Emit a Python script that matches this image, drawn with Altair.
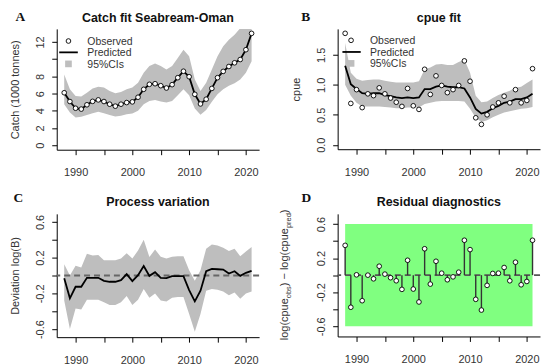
import altair as alt
import pandas as pd

# ---------------- data ----------------
years = [1988, 1989, 1990, 1991, 1992, 1993, 1994, 1995, 1996, 1997, 1998, 1999,
         2000, 2001, 2002, 2003, 2004, 2005, 2006, 2007, 2008, 2009, 2010, 2011,
         2012, 2013, 2014, 2015, 2016, 2017, 2018, 2019, 2020, 2021]

catch_obs = [6.10, 5.08, 4.30, 4.20, 4.70, 5.10, 5.27, 5.08, 4.77, 4.54, 4.77, 4.96,
             5.04, 5.58, 6.50, 7.08, 7.15, 6.92, 6.65, 7.04, 7.85, 8.60, 7.96, 5.92,
             4.80, 5.35, 6.60, 7.85, 8.58, 9.15, 9.58, 9.96, 11.10, 13.00]
catch_pred = [6.10, 5.08, 4.30, 4.20, 4.70, 5.10, 5.27, 5.08, 4.77, 4.54, 4.77, 4.96,
              5.04, 5.58, 6.50, 7.08, 7.15, 6.92, 6.65, 7.04, 7.85, 8.60, 7.96, 5.92,
              4.80, 5.35, 6.60, 7.85, 8.58, 9.15, 9.58, 9.96, 11.10, 13.00]
catch_lo = [4.77, 3.80, 3.23, 3.30, 3.50, 3.73, 3.88, 3.73, 3.50, 3.35, 3.42, 3.60,
            3.70, 4.00, 4.77, 5.15, 5.27, 5.08, 4.96, 5.15, 5.80, 6.50, 5.80, 4.27,
            3.54, 4.10, 5.04, 5.92, 6.50, 6.90, 7.20, 7.65, 8.42, 9.77]
catch_hi = [8.23, 6.50, 5.73, 5.65, 6.10, 6.58, 6.80, 6.70, 6.30, 6.04, 6.20, 6.50,
            6.70, 7.27, 8.42, 9.20, 9.50, 9.20, 8.80, 9.20, 10.15, 11.10, 10.35, 7.65,
            6.30, 7.27, 8.80, 10.35, 11.50, 12.27, 12.85, 13.60, 14.20, 14.80]

cpue_obs = [1.86, 0.69, 0.92, 0.62, 0.85, 0.82, 0.95, 0.85, 0.78, 0.71, 0.64, 0.94,
            0.65, 0.59, 1.26, 0.84, 1.15, 0.99, 0.87, 0.92, 0.99, 1.40, 1.06, 0.45,
            0.34, 0.50, 0.63, 0.70, 0.81, 0.70, 0.92, 0.70, 0.74, 1.27]
cpue_pred = [1.32, 1.01, 0.93, 0.86, 0.85, 0.86, 0.86, 0.83, 0.81, 0.79, 0.78, 0.79,
             0.78, 0.79, 0.93, 0.93, 0.97, 0.99, 0.97, 0.96, 0.96, 0.94, 0.79, 0.60,
             0.52, 0.55, 0.61, 0.65, 0.70, 0.72, 0.76, 0.76, 0.79, 0.85]
cpue_lo = [1.00, 0.82, 0.70, 0.64, 0.64, 0.64, 0.64, 0.63, 0.62, 0.61, 0.61, 0.62,
           0.62, 0.62, 0.68, 0.70, 0.72, 0.73, 0.73, 0.73, 0.73, 0.72, 0.60, 0.45,
           0.38, 0.41, 0.46, 0.50, 0.54, 0.56, 0.58, 0.60, 0.61, 0.63]
cpue_hi = [1.70, 1.20, 1.10, 1.07, 1.08, 1.09, 1.09, 1.07, 1.05, 1.04, 1.04, 1.04,
           1.04, 1.06, 1.26, 1.29, 1.34, 1.35, 1.33, 1.33, 1.38, 1.42, 1.20, 0.82,
           0.71, 0.72, 0.78, 0.83, 0.87, 0.90, 0.95, 0.97, 1.03, 1.09]

proc_dev = [-0.030, -0.255, -0.126, -0.126, -0.026, -0.026, -0.026, -0.060, -0.070,
            -0.070, -0.052, 0.015, -0.063, 0.004, 0.107, -0.004, 0.037, -0.026, -0.030,
            -0.007, -0.007, -0.007, -0.163, -0.290, -0.170, 0.048, 0.074, 0.070, 0.067,
            0.022, 0.048, -0.004, 0.030, 0.052]
proc_lo = [-0.28, -0.60, -0.37, -0.38, -0.27, -0.27, -0.27, -0.30, -0.33, -0.33, -0.30,
           -0.23, -0.33, -0.27, -0.15, -0.25, -0.20, -0.28, -0.29, -0.25, -0.24, -0.24,
           -0.43, -0.63, -0.43, -0.17, -0.15, -0.16, -0.18, -0.22, -0.19, -0.26, -0.20,
           -0.18]
proc_hi = [0.126, 0.000, 0.110, 0.090, 0.244, 0.225, 0.230, 0.170, 0.170, 0.170, 0.190,
           0.250, 0.190, 0.280, 0.400, 0.207, 0.290, 0.210, 0.190, 0.210, 0.215, 0.215,
           0.060, -0.060, 0.060, 0.300, 0.348, 0.335, 0.310, 0.274, 0.300, 0.215, 0.270,
           0.320]

resid = [0.350, -0.377, 0.004, -0.300, 0.000, -0.043, 0.105, 0.012, -0.030, -0.066,
         -0.167, 0.175, -0.163, -0.315, 0.310, -0.105, 0.163, 0.023, -0.054, -0.020,
         0.035, 0.410, 0.300, -0.284, -0.410, -0.120, 0.020, 0.023, 0.090, -0.066,
         0.152, -0.113, -0.074, 0.410]
resid_band = [-0.6, 0.6]

x_ticks = [1990, 1995, 2000, 2005, 2010, 2015, 2020]
yA_ticks = [0, 2, 4, 6, 8, 10, 12]
yB_ticks = [0.0, 0.5, 1.0, 1.5]
yCD_ticks = [-0.6, -0.4, -0.2, 0.0, 0.2, 0.4, 0.6]

legend_labels = ["Observed", "Predicted", "95%CIs"]
panel_titles = ["Catch fit Seabream-Oman", "cpue fit", "Process variation", "Residual diagnostics"]
panel_letters = ["A", "B", "C", "D"]
y_titles = ["Catch (1000 tonnes)", "cpue", "Deviation log(B)"]
d_title_parts = ["log(cpue", "obs", ") \u2212 log(cpue", "pred", ")"]

# ---------------- styling ----------------
FONT = "Liberation Sans"
SERIF = "Liberation Serif"
GREY = "#BEBEBE"
GREEN = "#80FF80"
TXT = "#333333"
XDOM = [1986.68, 2022.32]
COLW = 203.5

XAXIS = alt.Axis(values=x_ticks, format="d",
                 labelExpr="datum.value % 10 == 0 ? datum.label : ''",
                 title="", grid=False, domainColor="black", tickColor="black",
                 tickSize=5, labelPadding=12, labelFont=FONT, labelFontSize=11,
                 labelColor=TXT, labelFlush=False, labelOverlap=False,
                 labelBaseline="top", labelAlign="center")


def yaxis(values, title, height, fmt=None, expr=None):
    kw = dict(values=values, title=title, titleX=-38.5, titleY=height / 2,
              titleAngle=270, titleAlign="center", titleBaseline="alphabetic",
              titleFont=FONT, titleFontSize=11, titleFontWeight="normal",
              titleColor=TXT, labelAngle=270, labelAlign="center",
              labelBaseline="middle", labelPadding=11, tickSize=5, grid=False,
              domainColor="black", tickColor="black", labelFont=FONT,
              labelFontSize=11, labelColor=TXT, labelFlush=False, labelOverlap=False)
    if fmt:
        kw["format"] = fmt
    if expr:
        kw["labelExpr"] = expr
    return alt.Axis(**kw)


def xq(field):
    return alt.X(f"{field}:Q", scale=alt.Scale(domain=XDOM, nice=False, zero=False),
                 axis=XAXIS)


def yq(field, dom, ax):
    return alt.Y(f"{field}:Q", scale=alt.Scale(domain=dom, nice=False, zero=False),
                 axis=ax)


def txt(s, x, y, size=11, weight="normal", font=FONT, align="left",
        baseline="middle", angle=None, color=TXT):
    kw = dict(font=font, fontSize=size, fontWeight=weight, align=align,
              baseline=baseline, color=color)
    if angle is not None:
        kw["angle"] = angle
    return alt.Chart(pd.DataFrame({"t": [s]})).mark_text(**kw).encode(
        text="t:N", x=alt.value(x), y=alt.value(y))


def one():
    return alt.Chart(pd.DataFrame({"t": [0]}))


def points(df, field, dom, ax):
    return alt.Chart(df).mark_point(shape="circle", filled=True, fill="white",
                                    stroke="black", strokeWidth=0.9, size=22,
                                    opacity=1, clip=True).encode(
        x=xq("year"), y=yq(field, dom, ax))


def legend(cx, lx0, lx1, tx, ys):
    items = [
        one().mark_point(shape="circle", filled=True, fill="white", stroke="black",
                         strokeWidth=0.9, size=22, opacity=1).encode(
            x=alt.value(cx), y=alt.value(ys[0])),
        one().mark_rule(color="black", strokeWidth=1.8).encode(
            x=alt.value(lx0), x2=alt.value(lx1), y=alt.value(ys[1])),
        one().mark_square(color=GREY, size=45, opacity=1).encode(
            x=alt.value(cx), y=alt.value(ys[2])),
    ]
    for lab, yy in zip(legend_labels, ys):
        items.append(txt(lab, tx, yy + 0.8, size=10.5))
    return items


def head(title, letter, w, lx, ly, ty):
    return [txt(title, w / 2, ty, size=12.5, weight="bold", align="center",
                baseline="alphabetic", color="#111111"),
            txt(letter, lx, ly, size=13.5, weight="bold", font=SERIF,
                align="center", baseline="alphabetic", color="#111111")]


def zero_rule(dom, ax, color):
    return one().mark_rule(color=color, strokeWidth=1.8, strokeDash=[6, 4]).encode(
        y=yq("z", dom, ax)).transform_calculate(z="0")


CD_EXPR = ("abs(round(datum.value*10)) % 4 == 2 ? (datum.value < 0 ? '-' + "
           "format(-datum.value, '.1f') : format(datum.value, '.1f')) : ''")

# ---------------- Panel A ----------------
hA = 121.5
domA = [-0.52, 13.52]
axA = yaxis(yA_ticks, y_titles[0], hA, fmt="d",
            expr="datum.value == 10 ? '' : datum.label")
dfA = pd.DataFrame({"year": years, "obs": catch_obs, "pred": catch_pred,
                    "lo": catch_lo, "hi": catch_hi})
A = alt.layer(
    alt.Chart(dfA).mark_area(color=GREY, opacity=1, clip=True).encode(
        x=xq("year"), y=yq("hi", domA, axA), y2="lo"),
    alt.Chart(dfA).mark_line(color="black", strokeWidth=1.8, clip=True).encode(
        x=xq("year"), y=yq("pred", domA, axA)),
    points(dfA, "obs", domA, axA),
    *legend(11.8, 2.5, 21.2, 30.8, [12.2, 23.6, 35.2]),
    *head(panel_titles[0], panel_letters[0], COLW, -36.5, -8.2, -7.3),
    one().mark_rect(opacity=0).encode(x=alt.value(-48.5), x2=alt.value(-47.5),
                                      y=alt.value(-18), y2=alt.value(-17)),
).properties(width=COLW, height=hA)

# ---------------- Panel B ----------------
hB = 121
domB = [-0.0744, 1.934]
axB = yaxis(yB_ticks, y_titles[1], hB, fmt=".1f")
dfB = pd.DataFrame({"year": years, "obs": cpue_obs, "pred": cpue_pred,
                    "lo": cpue_lo, "hi": cpue_hi})
B = alt.layer(
    alt.Chart(dfB).mark_area(color=GREY, opacity=1, clip=True).encode(
        x=xq("year"), y=yq("hi", domB, axB), y2="lo"),
    alt.Chart(dfB).mark_line(color="black", strokeWidth=1.8, clip=True).encode(
        x=xq("year"), y=yq("pred", domB, axB)),
    points(dfB, "obs", domB, axB),
    *legend(13.5, 4.8, 23.2, 32.5, [11.5, 23.2, 34.7]),
    *head(panel_titles[1], panel_letters[1], COLW, -32, -8.2, -7.3),
).properties(width=COLW, height=hB)

# ---------------- Panel C ----------------
hC = 124
domC = [-0.69, 0.69]
axC = yaxis(yCD_ticks, y_titles[2], hC, expr=CD_EXPR)
dfC = pd.DataFrame({"year": years, "dev": proc_dev, "lo": proc_lo, "hi": proc_hi})
C = alt.layer(
    alt.Chart(dfC).mark_area(color=GREY, opacity=1, clip=True).encode(
        x=xq("year"), y=yq("hi", domC, axC), y2="lo"),
    zero_rule(domC, axC, "#666666"),
    alt.Chart(dfC).mark_line(color="black", strokeWidth=1.8, clip=True).encode(
        x=xq("year"), y=yq("dev", domC, axC)),
    *head(panel_titles[2], panel_letters[2], COLW, -38.7, -11.7, -7.6),
).properties(width=COLW, height=hC)

# ---------------- Panel D ----------------
hD = 123.3
domD = [-0.72, 0.72]
axD = yaxis(yCD_ticks, "", hD, expr=CD_EXPR)
dfD = pd.DataFrame({"year": years, "res": resid, "zero": [0.0] * len(years)})
dfBand = pd.DataFrame({"x0": [years[0]], "x1": [years[-1]],
                       "y0": [resid_band[0]], "y1": [resid_band[1]]})
D_layers = [
    alt.Chart(dfBand).mark_rect(color=GREEN, opacity=1).encode(
        x=xq("x0"), x2="x1", y=yq("y0", domD, axD), y2="y1"),
    zero_rule(domD, axD, "#555555"),
    alt.Chart(dfD).mark_rule(color="#333333", strokeWidth=1.4).encode(
        x=xq("year"), y=yq("res", domD, axD), y2="zero"),
    points(dfD, "res", domD, axD),
    *head(panel_titles[3], panel_letters[3], COLW, -31.5, -11.7, -7.5),
]
# composite y-axis title: log(cpue_obs) - log(cpue_pred), subscripts smaller
main_sz, sub_sz = 11, 7.5
y_cursor = 127.0
lens = [42.2, 12.1, 58.4, 15.0, 3.7]
for part, ln, is_sub in zip(d_title_parts, lens, [False, True, False, True, False]):
    D_layers.append(txt(part, -46.6 if is_sub else -50.1, y_cursor,
                        size=sub_sz if is_sub else main_sz, baseline="alphabetic",
                        angle=270))
    y_cursor -= ln
D = alt.layer(*D_layers).properties(width=COLW, height=hD)

chart = alt.concat(A, B, C, D, columns=2, spacing={"row": 64, "column": 78.5},
                   bounds="flush", align="each").properties(
    padding=0, background="white"
).configure_view(stroke="transparent")

chart.save("out.html", embed_options={"renderer": "svg", "actions": False})
